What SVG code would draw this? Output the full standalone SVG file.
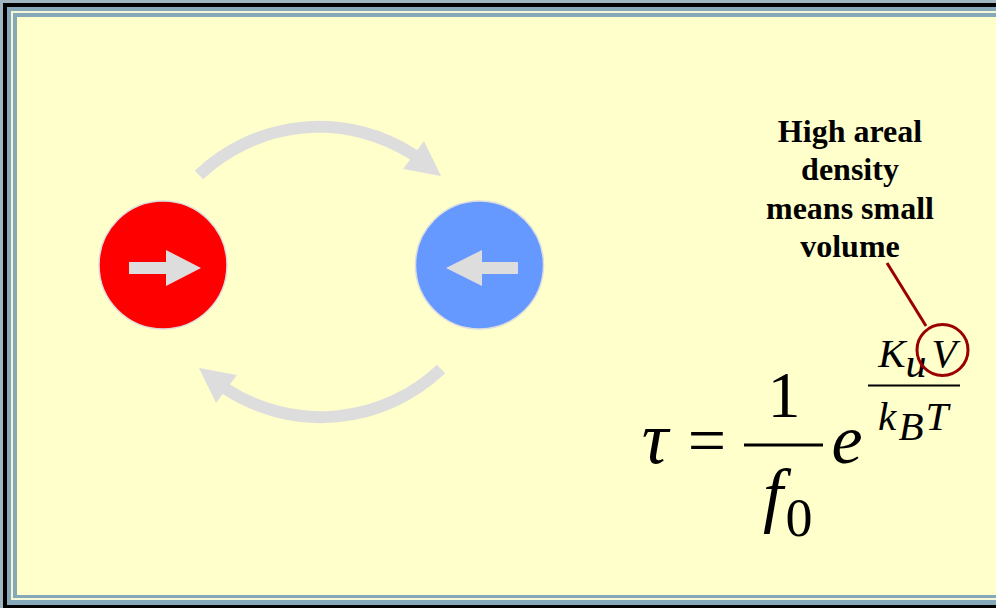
<svg xmlns="http://www.w3.org/2000/svg" width="996" height="608" viewBox="0 0 996 608">
<style>
.frame1{fill:#9fb5bf}
.frame2{fill:#000}
.frame3{fill:#86a9b9}
.frame4{fill:#f4f8d8}
.bg{fill:#ffffcc}
.gray{fill:#dddddd}
.arc{fill:none;stroke:#dddddd;stroke-width:12}
.note{font-family:"Liberation Serif",serif;font-weight:bold;font-size:32px;text-anchor:middle;fill:#000}
.m{font-family:"Liberation Serif",serif;fill:#000;text-anchor:middle}
.i{font-style:italic}
.red{fill:none;stroke:#9b0000;stroke-width:3}
</style>
<g id="frame">
<rect class="frame1" x="0" y="0" width="996" height="608"/>
<rect class="frame2" x="3" y="3" width="993" height="605"/>
<rect class="frame3" x="7" y="7" width="989" height="598"/>
<rect class="frame4" x="11" y="11" width="985" height="589"/>
<rect class="frame3" x="13" y="13" width="983" height="585"/>
<rect class="bg" x="17" y="17" width="979" height="578"/>
</g>
<g id="spin-right">
<circle cx="163" cy="265" r="64" fill="#ff0000" stroke="#dddddd" stroke-width="1.5"/>
<polygon class="gray" points="129,262 166,262 166,250 201,268 166,286 166,274 129,274"/>
</g>
<g id="spin-left">
<circle cx="479.5" cy="265" r="64" fill="#6699ff" stroke="#dddddd" stroke-width="1.5"/>
<polygon class="gray" points="518,262 482,262 482,250 446,268 482,286 482,274 518,274"/>
</g>
<g id="connectors">
<g id="flip-top">
<path class="arc" d="M199,175 A174,174 0 0 1 414,155"/>
<polygon class="gray" points="424,141 441,176 403,169"/>
</g>
<g id="flip-bottom" transform="rotate(180 320 272)">
<path class="arc" d="M199,175 A174,174 0 0 1 414,155"/>
<polygon class="gray" points="424,141 441,176 403,169"/>
</g>
<line id="pointer" class="red" x1="887" y1="263" x2="926" y2="326"/>
</g>
<g id="note">
<text class="note" x="850" y="141.5">High areal</text>
<text class="note" x="850" y="180">density</text>
<text class="note" x="850" y="218.5">means small</text>
<text class="note" x="850" y="257">volume</text>
</g>
<g id="formula">
<text class="m i" x="655" y="463" font-size="74">τ</text>
<text class="m" x="707" y="463" font-size="68">=</text>
<text class="m" x="784" y="417" font-size="66">1</text>
<rect x="744" y="443.5" width="79" height="3" fill="#000"/>
<text class="m i" x="773" y="519" font-size="72">f</text>
<text class="m" x="799" y="536" font-size="54">0</text>
<text class="m i" x="847" y="463" font-size="70">e</text>
<text class="m i" x="892" y="366.5" font-size="41">K</text>
<text class="m i" x="916" y="376.5" font-size="42">u</text>
<text class="m i" x="944" y="366.5" font-size="41">V</text>
<rect x="868" y="384.5" width="92" height="2" fill="#000"/>
<text class="m i" x="887" y="430" font-size="41">k</text>
<text class="m i" x="911" y="440" font-size="41">B</text>
<text class="m i" x="937" y="430" font-size="41">T</text>
<circle id="v-highlight" class="red" cx="942.5" cy="350" r="25.5"/>
</g>
</svg>
